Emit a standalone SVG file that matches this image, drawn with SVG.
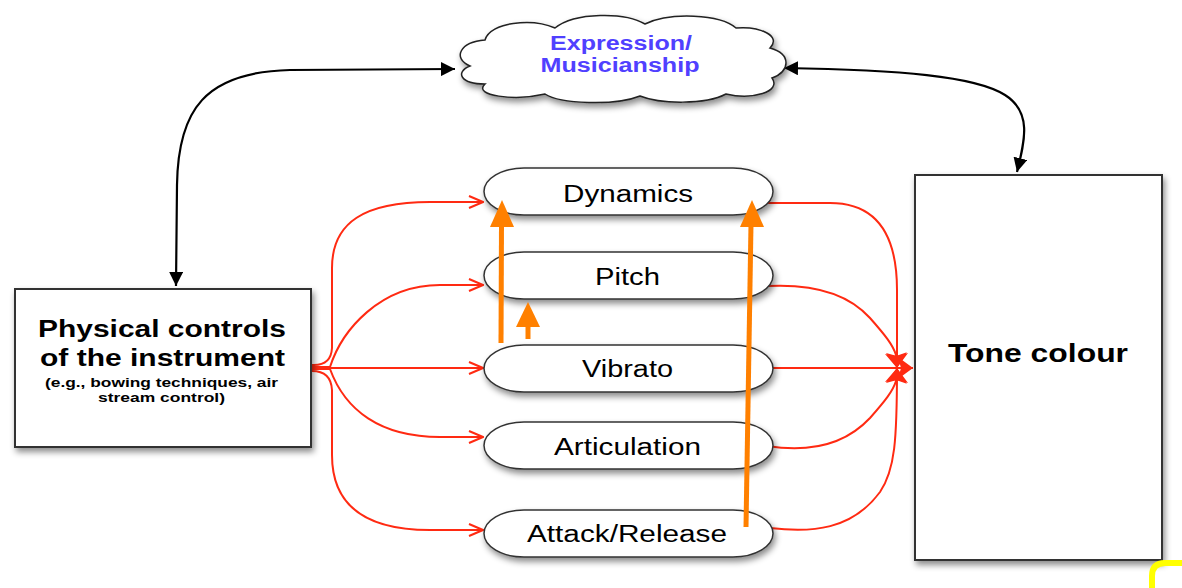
<svg xmlns="http://www.w3.org/2000/svg" width="1182" height="588" viewBox="0 0 1182 588">
<style>
.box{fill:#fff;stroke:#333;stroke-width:2;filter:url(#sh)}
.pill{fill:#fff;stroke:#333;stroke-width:1.5;filter:url(#sh)}
.t{font-family:"Liberation Sans",Arial,sans-serif;fill:#000;text-anchor:middle}
.b{font-weight:bold}
.red{fill:none;stroke:#ff2a12;stroke-width:2}
.blk{fill:none;stroke:#000;stroke-width:2.2}
.org{stroke:#ff8000;stroke-width:5;fill:none}
.orgh{fill:#ff8000}
</style>
<defs>
<filter id="sh" x="-10%" y="-10%" width="130%" height="140%">
<feDropShadow dx="2" dy="4" stdDeviation="3" flood-color="#000" flood-opacity="0.45"/>
</filter>
<marker id="ro" viewBox="0 0 16 14" refX="15" refY="7" markerWidth="16" markerHeight="14" markerUnits="userSpaceOnUse" orient="auto">
<path d="M1,1 L15,7 L1,13 M4,7 L15,7" fill="none" stroke="#ff2a12" stroke-width="2"/>
</marker>
<marker id="rf" viewBox="0 0 15 22" refX="15" refY="11" markerWidth="15" markerHeight="22" markerUnits="userSpaceOnUse" orient="auto">
<path d="M0,0 L15,11 L0,22 L3,11 Z" fill="#ff2a12"/>
</marker>
<marker id="bk" viewBox="0 0 14 14" refX="14" refY="7" markerWidth="14" markerHeight="14" markerUnits="userSpaceOnUse" orient="auto-start-reverse">
<path d="M0,0 L14,7 L0,14 Z" fill="#000"/>
</marker>
</defs>
<rect width="1182" height="588" fill="#fff"/>

<g id="connectors">
<path class="blk" d="M455,69 L290,70 C205,72 178,110 177,185 L176,286" marker-start="url(#bk)" marker-end="url(#bk)"/>
<path class="blk" d="M784,68 C900,70 975,76 1005,95 C1032,112 1025,140 1017,172" marker-start="url(#bk)" marker-end="url(#bk)"/>

<path class="red" d="M312,365 Q331,366 332,348 L332,268 C332,222 365,202 430,202 L483,202" marker-end="url(#ro)"/>
<path class="red" d="M312,367 L330,367 C342,330 380,285 440,285 L483,285" marker-end="url(#ro)"/>
<path class="red" d="M312,368 L483,368" marker-end="url(#ro)"/>
<path class="red" d="M312,369 L330,369 C345,410 380,437 440,437 L483,437" marker-end="url(#ro)"/>
<path class="red" d="M312,371 Q331,371 332,390 L332,455 C332,505 365,530 430,530 L483,530" marker-end="url(#ro)"/>

<path class="red" d="M767,203 L830,203 C880,203 897,240 897,290 L897,368" marker-end="url(#rf)"/>
<path class="red" d="M767,286 C805,284 845,290 870,318 C885,335 893,345 896,355 L897,368" marker-end="url(#rf)"/>
<path class="red" d="M772,368 L913,368" marker-end="url(#rf)"/>
<path class="red" d="M767,446 C805,452 842,448 870,418 C885,401 893,391 896,381 L897,368" marker-end="url(#rf)"/>
<path class="red" d="M770,528 C812,533 852,530 880,492 C895,470 897,440 897,368" marker-end="url(#rf)"/>
</g>

<g id="cloud">
<path d="M470,66 C452,58 460,42 485,40 C490,22 532,18 555,28 C575,12 625,12 645,24 C670,12 720,14 736,28 C760,26 782,36 770,48 C792,54 790,72 772,78 C782,92 752,100 726,94 C705,105 660,104 640,96 C615,106 560,104 545,94 C515,101 472,96 485,84 C460,84 455,72 470,66 Z" fill="#fff" stroke="#222" stroke-width="1.5" filter="url(#sh)"/>
<text class="t b" x="621" y="50" font-size="20" textLength="142" lengthAdjust="spacingAndGlyphs" style="fill:#5040ff">Expression/</text>
<text class="t b" x="620" y="72" font-size="20" textLength="159" lengthAdjust="spacingAndGlyphs" style="fill:#5040ff">Musicianship</text>
</g>

<g id="physical">
<rect class="box" x="15" y="289" width="296" height="158"/>
<text class="t b" x="162" y="337" font-size="23.5" textLength="248" lengthAdjust="spacingAndGlyphs">Physical controls</text>
<text class="t b" x="162.5" y="366" font-size="23.5" textLength="245" lengthAdjust="spacingAndGlyphs">of the instrument</text>
<text class="t b" x="161.5" y="387" font-size="12.5" textLength="233" lengthAdjust="spacingAndGlyphs">(e.g., bowing techniques, air</text>
<text class="t b" x="161.5" y="402" font-size="12.5" textLength="127" lengthAdjust="spacingAndGlyphs">stream control)</text>
</g>

<g id="tone">
<rect class="box" x="915" y="175" width="247" height="385"/>
<text class="t b" x="1038" y="362" font-size="25" textLength="180" lengthAdjust="spacingAndGlyphs">Tone colour</text>
</g>

<g id="dynamics">
<rect class="pill" x="484" y="168" width="289" height="47" rx="40" ry="23.5"/>
<text class="t" x="628" y="202" font-size="23" textLength="130" lengthAdjust="spacingAndGlyphs">Dynamics</text>
</g>
<g id="pitch">
<rect class="pill" x="484" y="252" width="289" height="47" rx="40" ry="23.5"/>
<text class="t" x="627.5" y="284.5" font-size="23" textLength="65" lengthAdjust="spacingAndGlyphs">Pitch</text>
</g>
<g id="vibrato">
<rect class="pill" x="484" y="345" width="289" height="47" rx="40" ry="23.5"/>
<text class="t" x="627.5" y="376.5" font-size="23" textLength="91" lengthAdjust="spacingAndGlyphs">Vibrato</text>
</g>
<g id="articulation">
<rect class="pill" x="484" y="422" width="289" height="47" rx="40" ry="23.5"/>
<text class="t" x="627.5" y="455" font-size="23" textLength="147" lengthAdjust="spacingAndGlyphs">Articulation</text>
</g>
<g id="attack">
<rect class="pill" x="484" y="510" width="289" height="47" rx="40" ry="23.5"/>
<text class="t" x="627" y="542" font-size="23" textLength="200" lengthAdjust="spacingAndGlyphs">Attack/Release</text>
</g>

<g id="orange-arrows">
<line class="org" x1="501" y1="343" x2="501.5" y2="224"/>
<polygon class="orgh" points="502,200 490,227 514,227"/>
<line class="org" x1="528" y1="339" x2="528" y2="324"/>
<polygon class="orgh" points="528,302 516,327 540,327"/>
<line class="org" x1="746" y1="527" x2="751" y2="224"/>
<polygon class="orgh" points="752,200 740,227 764,227"/>
</g>

<path d="M1152,588 L1152,576 Q1152,563 1165,563 L1182,563" fill="none" stroke="#ffff00" stroke-width="6"/>
</svg>
